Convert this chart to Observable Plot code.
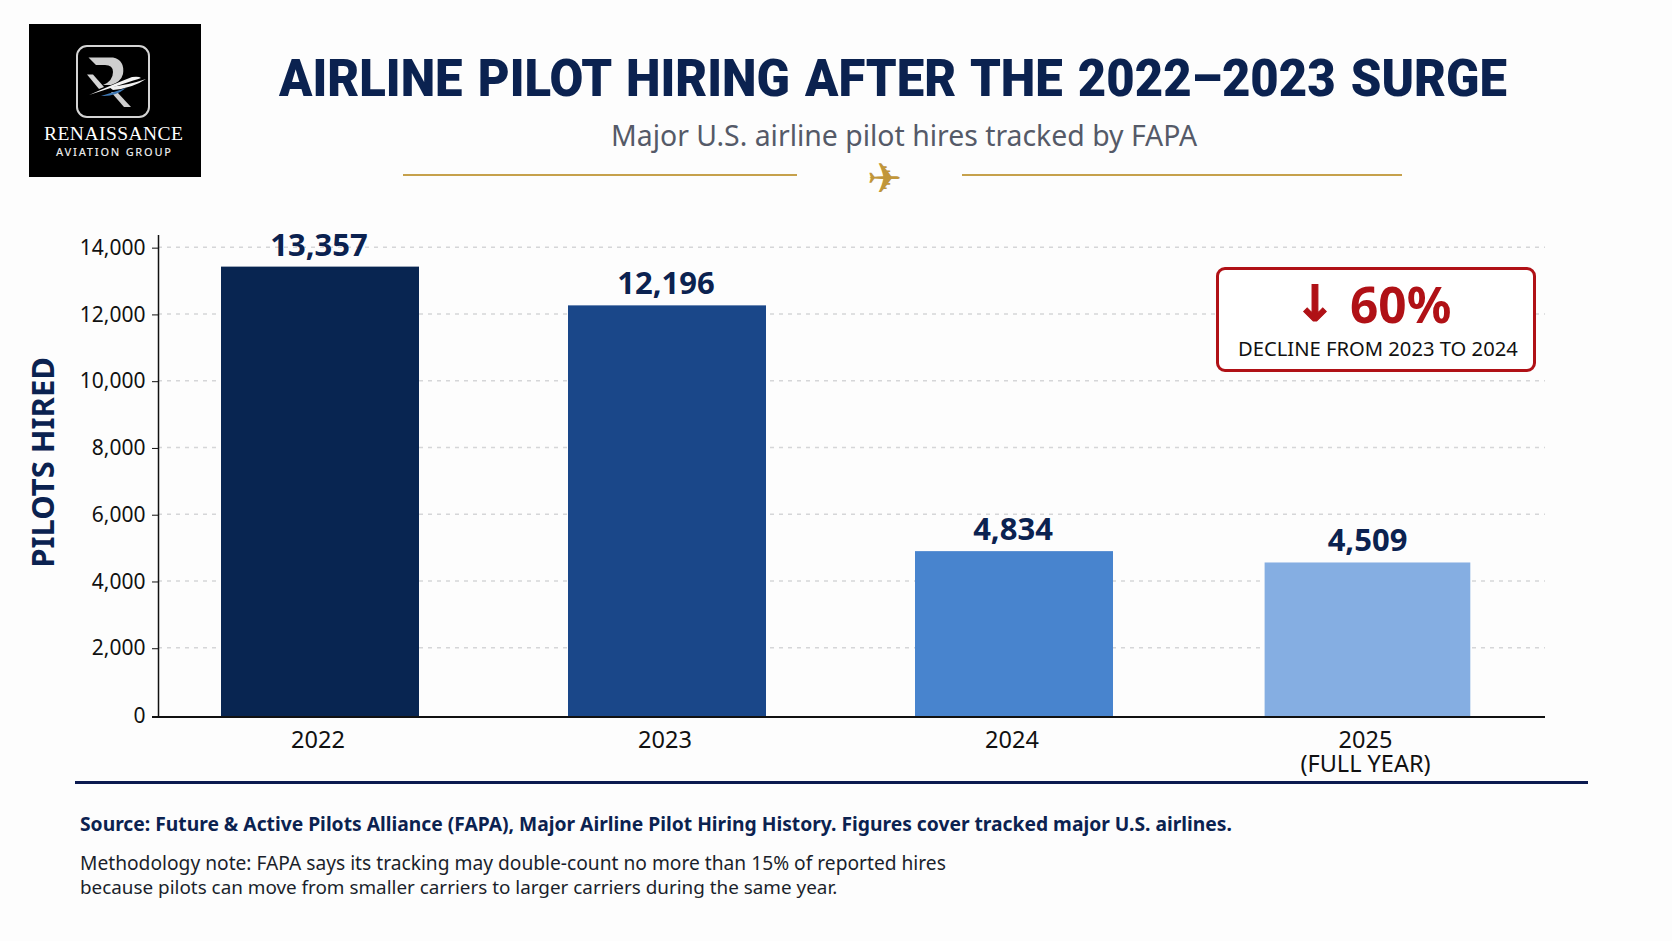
<!DOCTYPE html>
<html><head><meta charset="utf-8">
<script src="https://cdn.jsdelivr.net/npm/d3@7"></script>
<script src="https://cdn.jsdelivr.net/npm/@observablehq/plot@0.6"></script>
<style>
html,body{margin:0;padding:0;background:#fdfdfd;}
body{width:1672px;height:941px;overflow:hidden;position:relative;font-family:"Noto Sans",sans-serif;}
.a{position:absolute;white-space:nowrap;line-height:1;}
#chart{position:absolute;left:0;top:220px;}
#chart svg{background:transparent;display:block;}
.rule{position:absolute;}
</style></head>
<body>
<svg class="a" style="left:29px;top:24px" width="172" height="153" viewBox="0 0 172 153">
  <rect width="172" height="153" fill="#000"/>
  <rect x="48" y="22" width="72" height="71" rx="10" fill="none" stroke="#d4d4d4" stroke-width="2"/>
  <path d="M59.5 33.5 L84 33.5 Q96 36 94 50 Q92 58 82 61 L74 61 Q84 57 84 48 Q84 41 76 41 L67 41 Z" fill="#cfcfcf"/>
  <path d="M58 50.5 L64 50.5 L75 63 L70 65 Z" fill="#d5d5d5"/>
  <path d="M82 68 L88 68 L102 83 L95 83 Z" fill="#cfcfcf"/>
  <path d="M60 71 Q85 60 103 53 Q110 52 112 54 Q100 58 60 71 Z" fill="#f4f4f4"/>
  <path d="M80 63 Q100 61 117 55 Q104 64 84 66 Z" fill="#f0f0f0"/>
  <path d="M72 72 Q86 73 97 64 Q85 68 72 72 Z" fill="#3f79b5"/>
  <text x="84.5" y="115.7" text-anchor="middle" fill="#fff" font-family="Liberation Serif" font-size="19.5" textLength="139">RENAISSANCE</text>
  <text x="84.5" y="131.7" text-anchor="middle" fill="#e8e8e8" font-family="Noto Sans" font-weight="500" font-size="11" textLength="115">AVIATION GROUP</text>
</svg>
<svg class="a" style="left:0;top:40px;overflow:visible" width="1672" height="70">
  <text x="279" y="56" fill="#0b2250" font-family="Roboto" font-weight="900" font-size="51" word-spacing="3" textLength="1228" lengthAdjust="spacingAndGlyphs">AIRLINE PILOT HIRING AFTER THE 2022–2023 SURGE</text>
</svg>
<div class="a" id="subtitle" style="left:611px;top:121px;font-size:28.4px;color:#555a68;">Major U.S. airline pilot hires tracked by FAPA</div>
<div class="rule" style="left:403px;top:174px;width:394px;height:2px;background:#c6a14c"></div>
<div class="rule" style="left:962px;top:174px;width:440px;height:2px;background:#c6a14c"></div>
<div class="a" style="left:867px;top:158px;font-family:'DejaVu Sans';font-size:42px;color:#c1963a;">✈</div>

<div id="chart"></div>

<div class="a" style="left:1216px;top:267px;width:314px;height:99px;border:3px solid #b01116;border-radius:9px;background:#fff;z-index:2"></div>
<div class="a" style="left:1294px;top:279px;font-family:'DejaVu Sans';font-weight:700;font-size:50px;color:#b01116;-webkit-text-stroke:1px #b01116;z-index:3">↓</div>
<div class="a" style="left:1350px;top:280px;font-weight:700;font-size:49.5px;color:#b01116;z-index:3">60%</div>
<div class="a" style="left:1238px;top:338px;font-size:20.2px;color:#111;z-index:3">DECLINE FROM 2023 TO 2024</div>

<div class="rule" style="left:75px;top:781px;width:1513px;height:3px;background:#0b1a50"></div>
<div class="a" style="left:80px;top:814px;font-size:19.25px;font-weight:700;color:#0b2250;">Source: Future &amp; Active Pilots Alliance (FAPA), Major Airline Pilot Hiring History. Figures cover tracked major U.S. airlines.</div>
<div class="a" style="left:80px;top:853px;font-size:19.2px;color:#1a1f2b;">Methodology note: FAPA says its tracking may double-count no more than 15% of reported hires</div>
<div class="a" style="left:80px;top:878px;font-size:18.87px;color:#1a1f2b;">because pilots can move from smaller carriers to larger carriers during the same year.</div>

<script>
const years = ["2022","2023","2024","2025"];
const hires = [13357,12196,4834,4509];
const barColors = ["#082551","#1a4789","#4884ce","#85aee2"];
const xTickLabels = {"2022":"2022","2023":"2023","2024":"2024","2025":"2025\n(FULL YEAR)"};
const yTicks = [2000,4000,6000,8000,10000,12000,14000];
const rows = years.map((year,i)=>({year,hires:hires[i]}));
const early = rows.slice(0,3), last = rows.slice(3);
const navy = "#0b2250";
const valueLabel = (data,dx)=>Plot.text(data,{x:"year",y:"hires",text:d=>d3.format(",")(d.hires),dy:-13,dx,lineAnchor:"bottom",fontSize:31,fontWeight:700,fill:navy});
const xAxis = (ticks,dx)=>Plot.axisX({ticks,tickSize:0,tickPadding:13,fontSize:23.5,label:null,dx,tickFormat:d=>xTickLabels[d],lineHeight:1.05,fill:"#111"});
const chart = Plot.plot({
  width:1672,height:560,
  marginLeft:158,marginRight:127,marginTop:15.3,marginBottom:63.5,
  style:{fontFamily:'"Noto Sans",sans-serif',background:"transparent",overflow:"visible"},
  x:{type:"band",domain:years,paddingInner:.4294,paddingOuter:.2117,align:.427,axis:null},
  y:{domain:[-75,14340],axis:null},
  color:{domain:years,range:barColors},
  marks:[
    Plot.ruleY(yTicks,{stroke:"#d5d6d8",strokeWidth:1.5,strokeDasharray:"4 5"}),
    Plot.barY(early,{x:"year",y:"hires",fill:"year",insetBottom:-2.5,insetTop:-1.5}),
    Plot.barY(last,{x:"year",y:"hires",fill:"year",insetBottom:-2.5,insetTop:-1,insetLeft:2.6,insetRight:-10.3}),
    valueLabel(early,-1.5),
    valueLabel(last,6),
    Plot.frame({anchor:"left",stroke:"#111",strokeWidth:1.5}),
    Plot.ruleY([-75],{stroke:"#111",strokeWidth:2,insetLeft:-6}),
    Plot.axisY({ticks:yTicks,tickSize:6,tickPadding:7,fontSize:21,label:null,tickFormat:d3.format(","),stroke:"#111",fill:"#111",dy:1}),
    Plot.axisY({ticks:[0],tickSize:0,tickPadding:13,fontSize:21,label:null,fill:"#111",dy:2}),
    xAxis(years.slice(0,3),-2.5),
    xAxis(["2025"],4),
    Plot.text(["PILOTS HIRED"],{frameAnchor:"left",textAnchor:"middle",rotate:-90,dx:-114,dy:-14,fontSize:31,fontWeight:700,fill:navy})
  ]
});
document.getElementById("chart").append(chart);
</script>
</body></html>
